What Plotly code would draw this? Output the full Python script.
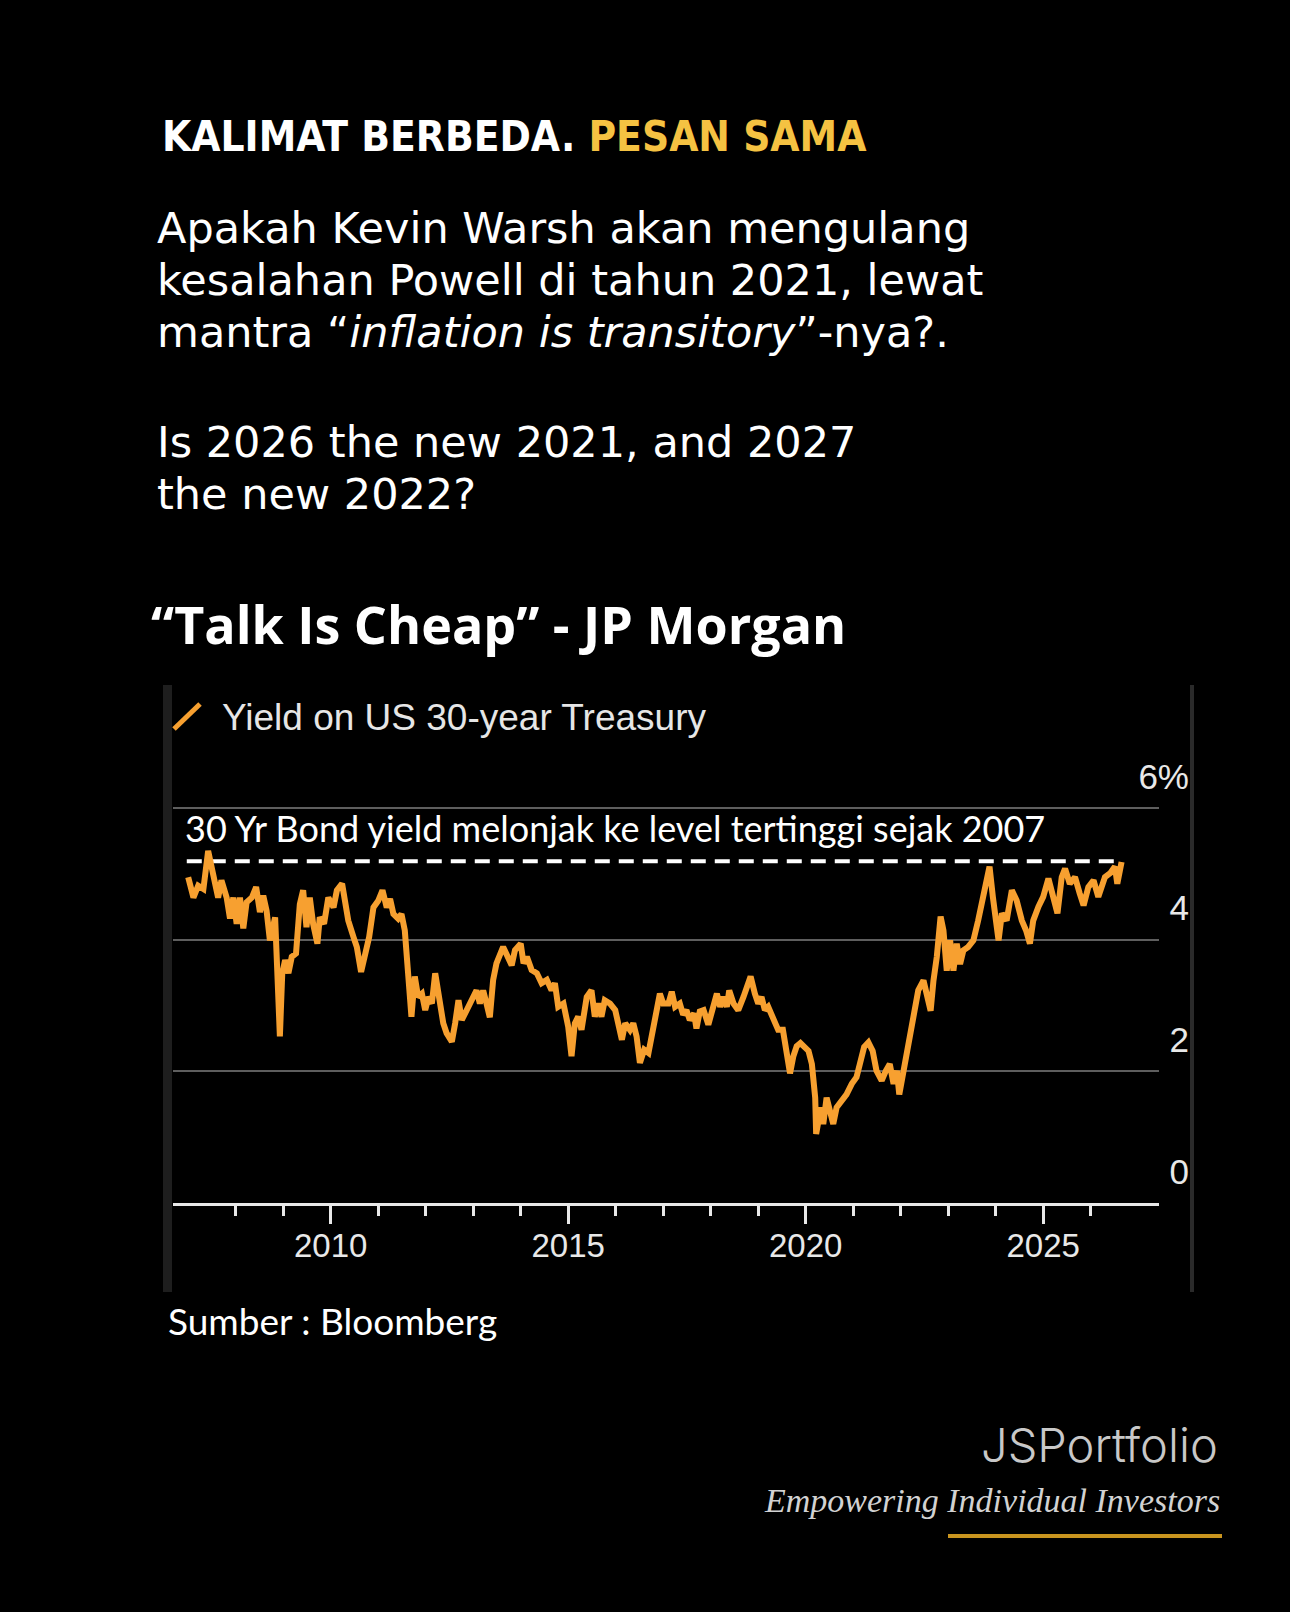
import plotly.graph_objects as go

W, H = 1290, 1612

# ---------------- data ----------------
years = [
    2007.00, 2007.11, 2007.21, 2007.32, 2007.42, 2007.53, 2007.63, 2007.70, 2007.81, 2007.88,
    2007.95, 2008.02, 2008.09, 2008.16, 2008.23, 2008.34, 2008.43, 2008.51, 2008.58, 2008.65,
    2008.72, 2008.83, 2008.88, 2008.93, 2008.98, 2009.04, 2009.11, 2009.18, 2009.27, 2009.35,
    2009.42, 2009.49, 2009.56, 2009.63, 2009.72, 2009.77, 2009.86, 2009.95, 2010.06, 2010.13,
    2010.24, 2010.30, 2010.37, 2010.48, 2010.55, 2010.64, 2010.72, 2010.81, 2010.90, 2011.00,
    2011.09, 2011.18, 2011.25, 2011.32, 2011.42, 2011.49, 2011.56, 2011.63, 2011.70, 2011.77,
    2011.84, 2011.92, 2011.99, 2012.06, 2012.13, 2012.20, 2012.27, 2012.37, 2012.44, 2012.55,
    2012.62, 2012.69, 2012.76, 2012.86, 2012.97, 2013.07, 2013.14, 2013.21, 2013.28, 2013.35,
    2013.42, 2013.49, 2013.63, 2013.74, 2013.81, 2013.88, 2014.00, 2014.06, 2014.13, 2014.23,
    2014.34, 2014.44, 2014.55, 2014.65, 2014.72, 2014.79, 2014.90, 2015.00, 2015.07, 2015.14,
    2015.21, 2015.28, 2015.39, 2015.49, 2015.56, 2015.63, 2015.70, 2015.77, 2015.88, 2015.99,
    2016.06, 2016.13, 2016.20, 2016.30, 2016.37, 2016.44, 2016.51, 2016.60, 2016.69, 2016.76,
    2016.83, 2016.93, 2017.00, 2017.11, 2017.18, 2017.25, 2017.35, 2017.42, 2017.49, 2017.56,
    2017.65, 2017.70, 2017.77, 2017.85, 2017.95, 2018.02, 2018.13, 2018.20, 2018.27, 2018.34,
    2018.39, 2018.48, 2018.58, 2018.69, 2018.76, 2018.84, 2018.93, 2019.00, 2019.07, 2019.14,
    2019.21, 2019.28, 2019.35, 2019.42, 2019.52, 2019.59, 2019.67, 2019.74, 2019.81, 2019.89,
    2019.99, 2020.06, 2020.13, 2020.20, 2020.22, 2020.27, 2020.32, 2020.37, 2020.44, 2020.51,
    2020.58, 2020.65, 2020.76, 2020.86, 2020.97, 2021.07, 2021.14, 2021.23, 2021.32, 2021.41,
    2021.49, 2021.60, 2021.69, 2021.77, 2021.85, 2021.92, 2021.97, 2022.06, 2022.16, 2022.27,
    2022.37, 2022.48, 2022.55, 2022.63, 2022.69, 2022.76, 2022.84, 2022.90, 2022.97, 2023.04,
    2023.11, 2023.18, 2023.25, 2023.32, 2023.42, 2023.53, 2023.63, 2023.73, 2023.81, 2023.87,
    2023.94, 2024.01, 2024.06, 2024.13, 2024.23, 2024.34, 2024.44, 2024.55, 2024.64, 2024.72,
    2024.79, 2024.90, 2025.00, 2025.11, 2025.21, 2025.30, 2025.39, 2025.46, 2025.56, 2025.67,
    2025.77, 2025.85, 2025.95, 2026.06, 2026.16, 2026.23, 2026.30, 2026.41, 2026.51, 2026.56,
    2026.62, 2026.65,
]
yields = [
    4.95, 4.64, 4.82, 4.77, 5.35, 5.00, 4.64, 4.90, 4.64, 4.32,
    4.64, 4.24, 4.64, 4.17, 4.57, 4.64, 4.80, 4.42, 4.67, 4.44,
    3.99, 4.34, 3.54, 2.53, 3.49, 3.69, 3.49, 3.74, 3.79, 4.54,
    4.75, 4.19, 4.64, 4.24, 3.94, 4.34, 4.24, 4.64, 4.49, 4.75,
    4.85, 4.54, 4.29, 4.04, 3.89, 3.51, 3.79, 4.04, 4.49, 4.59,
    4.75, 4.49, 4.62, 4.39, 4.32, 4.39, 4.14, 3.49, 2.83, 3.44,
    3.13, 3.18, 2.93, 3.13, 3.03, 3.49, 3.13, 2.73, 2.58, 2.45,
    2.73, 3.08, 2.78, 2.93, 3.13, 3.23, 3.03, 3.23, 3.03, 2.82,
    3.39, 3.64, 3.89, 3.74, 3.61, 3.84, 3.94, 3.64, 3.74, 3.54,
    3.49, 3.34, 3.39, 3.23, 3.34, 2.98, 3.03, 2.68, 2.23, 2.73,
    2.83, 2.63, 3.13, 3.23, 2.83, 3.03, 2.83, 3.08, 3.03, 2.93,
    2.68, 2.48, 2.73, 2.63, 2.73, 2.53, 2.13, 2.33, 2.28, 2.53,
    2.83, 3.18, 3.03, 3.03, 3.21, 2.98, 3.03, 2.86, 2.93, 2.78,
    2.88, 2.65, 2.91, 2.93, 2.71, 2.91, 3.18, 2.98, 3.13, 2.98,
    3.23, 3.03, 2.93, 3.13, 3.28, 3.44, 3.18, 3.03, 3.13, 2.93,
    2.98, 2.88, 2.78, 2.63, 2.63, 2.33, 1.97, 2.23, 2.38, 2.43,
    2.37, 2.31, 2.11, 1.60, 1.05, 1.30, 1.45, 1.20, 1.60, 1.40,
    1.20, 1.45, 1.55, 1.65, 1.81, 1.91, 2.11, 2.37, 2.44, 2.31,
    2.01, 1.86, 2.01, 2.11, 1.81, 2.01, 1.65, 2.01, 2.37, 2.82,
    3.23, 3.38, 3.13, 2.92, 3.38, 3.74, 4.35, 4.14, 3.53, 3.99,
    3.53, 3.94, 3.63, 3.84, 3.89, 3.99, 4.29, 4.65, 4.95, 5.11,
    4.65, 4.14, 3.99, 4.40, 4.29, 4.75, 4.60, 4.29, 4.14, 3.94,
    4.29, 4.50, 4.65, 4.93, 4.60, 4.40, 4.95, 5.08, 4.85, 4.95,
    4.70, 4.52, 4.80, 4.90, 4.65, 4.80, 4.95, 5.01, 5.11, 4.85,
    5.11, 5.18,
]
peak_level = 5.19
peak_span = [2006.97, 2026.65]

major_ticks = [2010, 2015, 2020, 2025]
major_labels = ["2010", "2015", "2020", "2025"]
minor_ticks = [2008, 2009, 2011, 2012, 2013, 2014, 2016, 2017, 2018, 2019,
               2021, 2022, 2023, 2024, 2026]
y_ticks = [0, 2, 4, 6]
y_labels = ["0", "2", "4", "6%"]

# ---------------- styling ----------------
ORANGE = "#F7A030"
GOLD = "#F5C242"
AXIS_WHITE = "#E8E8E8"


def px(x):
    return x / W


def py(y):
    return 1 - y / H


fig = go.Figure()

fig.add_trace(go.Scatter(
    x=peak_span, y=[peak_level, peak_level], mode="lines",
    line=dict(color="white", width=4, dash="15px,9px"),
    hoverinfo="skip", showlegend=False,
))
fig.add_trace(go.Scatter(
    x=years, y=yields, mode="lines",
    line=dict(color=ORANGE, width=6),
    name="Yield on US 30-year Treasury", showlegend=False,
))

x_left, x_right = 172.7, 1159.0
y_bottom, y_top = 1203.0, 742.2
px_per_year = 47.5
x_range = [2010 - (330.7 - x_left) / px_per_year, 2010 + (x_right - 330.7) / px_per_year]

fig.update_layout(
    width=W, height=H,
    margin=dict(l=0, r=0, t=0, b=0),
    paper_bgcolor="#000000", plot_bgcolor="#000000",
    showlegend=False,
    xaxis=dict(
        domain=[px(x_left), px(x_right)], range=x_range,
        showgrid=False, zeroline=False,
        showline=True, linecolor=AXIS_WHITE, linewidth=3,
        tickmode="array", tickvals=major_ticks, ticktext=major_labels,
        ticks="outside", ticklen=18, tickwidth=2.5, tickcolor=AXIS_WHITE,
        tickfont=dict(family="Liberation Sans, Arial, sans-serif", size=33, color=AXIS_WHITE),
        ticklabelstandoff=-7,
        minor=dict(tickmode="array", tickvals=minor_ticks, ticks="outside",
                   ticklen=10, tickwidth=2.5, tickcolor=AXIS_WHITE, showgrid=False),
        fixedrange=True,
    ),
    yaxis=dict(
        domain=[py(y_bottom), py(y_top)], range=[0, 7],
        side="right", showgrid=True, gridcolor="#5E5E5E", gridwidth=2,
        zeroline=False, showline=False, ticks="",
        tickmode="array", tickvals=y_ticks, ticktext=y_labels,
        ticklabelposition="inside top",
        ticklabelstandoff=-33, ticklabelshift=-7,
        tickfont=dict(family="Liberation Sans, Arial, sans-serif", size=35, color=AXIS_WHITE),
        fixedrange=True,
    ),
)

# panel borders, legend slash, signature underline
fig.add_shape(type="rect", xref="paper", yref="paper",
              x0=px(163), x1=px(172), y0=py(1292), y1=py(685),
              fillcolor="#1E1E1E", line=dict(width=0), layer="below")
fig.add_shape(type="rect", xref="paper", yref="paper",
              x0=px(1190), x1=px(1194), y0=py(1292), y1=py(685),
              fillcolor="#2A2A2A", line=dict(width=0), layer="below")
fig.add_shape(type="line", xref="paper", yref="paper",
              x0=px(174), y0=py(729), x1=px(200), y1=py(704),
              line=dict(color=ORANGE, width=5))
fig.add_shape(type="line", xref="paper", yref="paper",
              x0=px(948), y0=py(1536), x1=px(1222), y1=py(1536),
              line=dict(color="#C9951F", width=4))


def note(text, x, y, size, family, color="white", weight="normal", style="normal",
         xanchor="left"):
    fig.add_annotation(
        text=text, x=px(x), y=py(y), xref="paper", yref="paper",
        xanchor=xanchor, yanchor="middle", showarrow=False, align=xanchor,
        font=dict(family=family, size=size, color=color, weight=weight, style=style),
    )


TITLE_FONT = "Liberation Sans Narrow, DejaVu Sans Condensed, Arial Narrow, sans-serif"
BODY_FONT = "DejaVu Sans, Open Sans, sans-serif"

note("KALIMAT BERBEDA. <span style='color:%s'>PESAN SAMA</span>" % GOLD,
     160, 136, 42, TITLE_FONT, weight="bold")

body_lines = [
    ("Apakah Kevin Warsh akan mengulang", 228),
    ("kesalahan Powell di tahun 2021, lewat", 280),
    ("mantra “<i>inflation is transitory</i>”-nya?.", 332),
    ("Is 2026 the new 2021, and 2027", 442),
    ("the new 2022?", 494),
]
for txt, yc in body_lines:
    note(txt, 155, yc, 43, BODY_FONT)

note("“Talk Is Cheap” - JP Morgan", 149, 623, 52, "Open Sans, sans-serif", weight="bold")

note("Yield on US 30-year Treasury", 220, 717, 37,
     "Liberation Sans, Arial, sans-serif", color="#E6E6E6")

note("30 Yr Bond yield melonjak ke level tertinggi sejak 2007", 183, 828, 36,
     "Lato, sans-serif")

note("Sumber : Bloomberg", 166, 1320, 37, "Lato, sans-serif")

note("JSPortfolio", 1220, 1444, 47, "Inter, Lato, sans-serif", color="#C8C8C8",
     weight=300, xanchor="right")
note("Empowering Individual Investors", 1222, 1500, 34,
     "Liberation Serif, DejaVu Serif, serif", color="#D2D2D2", style="italic",
     xanchor="right")

fig.write_html("out.html")
